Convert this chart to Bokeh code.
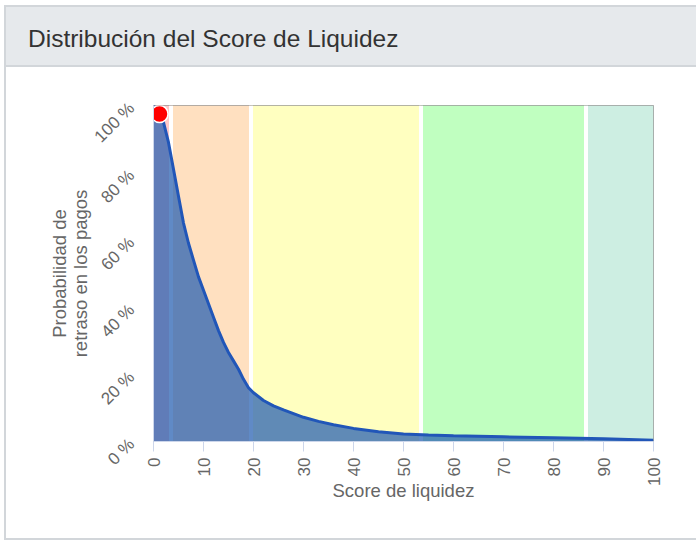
import math
from bokeh.plotting import figure
from bokeh.models import Range1d, FixedTicker, Div
from bokeh.layouts import column
from bokeh.embed import file_html
from bokeh.resources import INLINE

# ---- data ----
title_text = "Distribución del Score de Liquidez"
x_label = "Score de liquidez"
y_label = "Probabilidad de\nretraso en los pagos"

score = [0, 1, 2, 3, 4, 5, 6, 7, 8, 9, 10, 11, 12, 13, 14, 15, 16, 17, 18, 19, 20,
         22, 24, 26, 28, 30, 33, 36, 40, 45, 50, 55, 60, 70, 80, 90, 100]
prob = [100, 98, 95, 89, 81, 73, 65, 59, 54, 49, 45, 41, 37, 33, 29.5, 26.5, 24, 21.5, 18.5, 16, 14.5,
        12.2, 10.6, 9.4, 8.3, 7.2, 6.0, 5.0, 3.9, 2.9, 2.2, 1.9, 1.7, 1.4, 1.1, 0.8, 0.4]

current_score = [1.2]
current_prob = [97.5]

band_edges = [0, 3.5, 19.5, 53.5, 86.5, 100]
band_colors = ["#ffc8c8", "#ffe0c0", "#ffffc0", "#c0ffc0", "#cdeee2"]

x_ticks = [0, 10, 20, 30, 40, 50, 60, 70, 80, 90, 100]
y_ticks = [0, 20, 40, 60, 80, 100]
y_tick_labels = ["0 %", "20 %", "40 %", "60 %", "80 %", "100 %"]

FONT = "Liberation Sans"

header = Div(
    text=('<div style="box-sizing:border-box;width:692px;height:62px;'
          'background:#e6e9ec;border-top:2px solid #d2d6da;border-left:2px solid #d2d6da;'
          'border-bottom:2px solid #d2d6da;padding-left:22px;padding-top:2px;line-height:60px;'
          'font-family:\'Liberation Sans\';font-size:24.5px;color:#333333;">'
          + title_text + '</div>'),
    width=692, height=62, margin=0,
)

p = figure(
    frame_width=498, frame_height=334,
    min_border_left=147, min_border_right=45, min_border_top=38, min_border_bottom=99,
    x_range=Range1d(0, 100), y_range=Range1d(0, 100),
    output_backend="svg", toolbar_location=None,
    background_fill_color="white", border_fill_color="white",
    margin=0,
    styles={"border-left": "2px solid #d2d6da", "border-bottom": "2px solid #d2d6da"},
)
p.grid.visible = False
p.outline_line_color = "#9a9a9a"
p.outline_line_width = 1

# bands
p.quad(left=band_edges[:-1], right=band_edges[1:], bottom=0, top=100,
       fill_color=band_colors, line_color=None)
inner = band_edges[1:-1]
p.segment(x0=inner, y0=[0] * len(inner), x1=inner, y1=[100] * len(inner),
          line_color="white", line_width=4)

# area + line
p.varea(x=score, y1=[0] * len(score), y2=prob, fill_color="#2b63b3", fill_alpha=0.75)
p.line(score, prob, line_color="#2156b8", line_width=3)
p.scatter(current_score, current_prob, size=17, fill_color="#ff0000",
          line_color="white", line_width=1.5)

# axes
xa = p.xaxis[0]
xa.ticker = FixedTicker(ticks=x_ticks)
xa.minor_tick_line_color = None
xa.major_tick_in = 0
xa.major_tick_out = 10
xa.major_tick_line_color = "#ccd6eb"
xa.axis_line_color = "#ccd6eb"
xa.major_label_orientation = math.pi / 2
xa.major_label_text_font = FONT
xa.major_label_text_font_size = "17px"
xa.major_label_text_color = "#666666"
xa.major_label_standoff = 6
xa.axis_label = x_label
xa.axis_label_text_font = FONT
xa.axis_label_text_font_size = "18.5px"
xa.axis_label_text_font_style = "normal"
xa.axis_label_text_color = "#666666"
xa.axis_label_standoff = -9

ya = p.yaxis[0]
ya.ticker = FixedTicker(ticks=y_ticks)
ya.major_label_overrides = {t: l for t, l in zip(y_ticks, y_tick_labels)}
ya.minor_tick_line_color = None
ya.major_tick_line_color = None
ya.axis_line_color = "#ccd6eb"
ya.major_label_orientation = math.pi / 4
ya.major_label_text_font = FONT
ya.major_label_text_font_size = "17px"
ya.major_label_text_color = "#666666"
ya.major_label_standoff = 16
ya.axis_label = y_label
ya.axis_label_text_font = FONT
ya.axis_label_text_font_size = "18.5px"
ya.axis_label_text_font_style = "normal"
ya.axis_label_text_color = "#666666"
ya.axis_label_text_line_height = 1.0
ya.axis_label_standoff = -10

layout = column(header, p, spacing=0, margin=(5, 0, 0, 4))

open("out.html", "w").write(file_html(layout, INLINE))
